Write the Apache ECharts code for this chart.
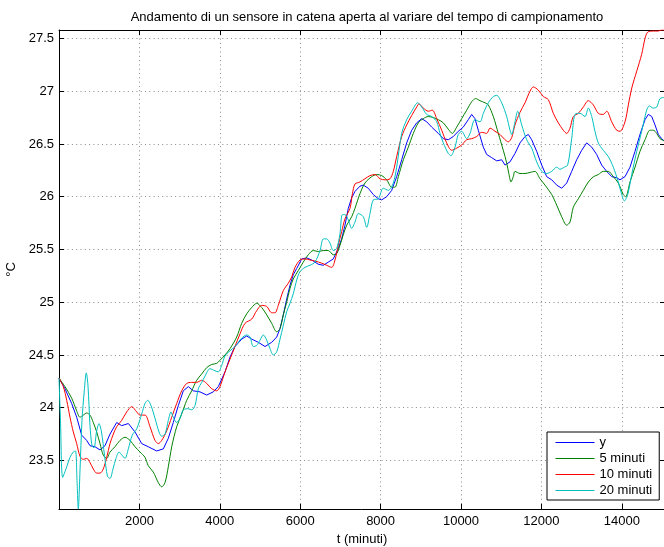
<!DOCTYPE html>
<html>
<head>
<meta charset="utf-8">
<title>Andamento sensore</title>
<script src="https://cdn.jsdelivr.net/npm/echarts@6/dist/echarts.min.js"></script>
<style>
  html, body { margin: 0; padding: 0; background: #fff; }
  #chart { width: 664px; height: 547px; }
</style>
</head>
<body>
<div id="chart"></div>
<script>
// Text
const chartTitle = 'Andamento di un sensore in catena aperta al variare del tempo di campionamento';
const xName = 't (minuti)';
const yName = '°C';
const seriesNames = ['y', '5 minuti', '10 minuti', '20 minuti'];

// Axis ranges and tick steps
const xRange = [0, 15075];
const yRange = [23.04, 27.58];
const xStep = 2000;
const yStep = 0.5;

// Measured signal y: [t (minuti), °C]
const dataY = [
  [0,24.28],[149,24.18],[315,24.04],[440,23.91],[564,23.74],[689,23.69],[771,23.64],[896,23.63],
  [1020,23.60],[1144,23.64],[1269,23.75],[1435,23.86],[1559,23.83],[1725,23.85],[1891,23.77],
  [2057,23.66],[2221,23.63],[2430,23.59],[2595,23.61],[2719,23.71],[2843,23.86],[2968,24.02],
  [3092,24.16],[3217,24.20],[3341,24.16],[3508,24.15],[3674,24.12],[3838,24.15],[3963,24.20],
  [4130,24.34],[4254,24.48],[4378,24.58],[4545,24.65],[4669,24.68],[4794,24.65],[4958,24.62],
  [5125,24.58],[5291,24.62],[5416,24.67],[5498,24.75],[5580,24.88],[5664,25.03],[5746,25.16],
  [5828,25.26],[5913,25.32],[6038,25.41],[6163,25.42],[6286,25.40],[6450,25.36],[6575,25.35],
  [6699,25.38],[6823,25.41],[6948,25.51],[7032,25.60],[7114,25.73],[7197,25.89],[7280,25.99],
  [7363,26.05],[7488,26.10],[7570,26.11],[7694,26.08],[7819,26.02],[7943,25.98],[8027,25.97],
  [8152,26.00],[8276,26.06],[8400,26.19],[8525,26.35],[8649,26.51],[8774,26.63],[8898,26.70],
  [9023,26.74],[9147,26.71],[9271,26.66],[9436,26.60],[9560,26.55],[9684,26.54],[9809,26.57],
  [9933,26.62],[10057,26.66],[10182,26.73],[10266,26.78],[10348,26.74],[10431,26.63],[10555,26.47],
  [10640,26.40],[10764,26.37],[10888,26.34],[11012,26.35],[11095,26.30],[11219,26.33],[11343,26.41],
  [11468,26.51],[11592,26.57],[11674,26.59],[11759,26.54],[11883,26.43],[12008,26.30],[12132,26.19],
  [12257,26.16],[12381,26.11],[12505,26.08],[12630,26.13],[12754,26.24],[12878,26.35],[13003,26.44],
  [13127,26.51],[13252,26.47],[13376,26.40],[13500,26.30],[13625,26.24],[13749,26.19],[13873,26.18],
  [13956,26.16],[14080,26.19],[14205,26.28],[14329,26.43],[14453,26.59],[14578,26.73],[14660,26.78],
  [14745,26.76],[14827,26.68],[14909,26.59],[14993,26.55],[15050,26.53]
];

// Sampled every 5 minutes
const data5 = [
  [0,24.28],[149,24.20],[316,24.09],[440,23.97],[522,23.91],[605,23.93],[689,23.95],[771,23.93],
  [853,23.86],[938,23.77],[1020,23.66],[1102,23.55],[1187,23.52],[1269,23.58],[1393,23.63],
  [1517,23.69],[1642,23.72],[1766,23.69],[1891,23.63],[2015,23.58],[2139,23.53],[2221,23.45],
  [2346,23.39],[2470,23.29],[2555,23.25],[2637,23.29],[2719,23.44],[2804,23.63],[2928,23.82],
  [3052,23.94],[3177,24.07],[3301,24.16],[3425,24.26],[3550,24.32],[3674,24.38],[3799,24.41],
  [3923,24.42],[4005,24.45],[4130,24.50],[4254,24.56],[4420,24.67],[4545,24.80],[4669,24.89],
  [4794,24.95],[4918,24.99],[5042,24.95],[5167,24.88],[5291,24.80],[5416,24.72],[5498,24.75],
  [5580,24.88],[5664,25.00],[5746,25.13],[5828,25.22],[5953,25.30],[6077,25.38],[6202,25.45],
  [6326,25.49],[6450,25.48],[6575,25.49],[6699,25.49],[6823,25.45],[6908,25.46],[6990,25.54],
  [7072,25.64],[7157,25.73],[7281,25.81],[7363,25.89],[7488,26.03],[7612,26.13],[7779,26.19],
  [7903,26.21],[8027,26.20],[8152,26.16],[8276,26.09],[8358,26.09],[8441,26.19],[8566,26.35],
  [8690,26.47],[8814,26.60],[8938,26.70],[9062,26.74],[9187,26.76],[9311,26.75],[9436,26.73],
  [9560,26.70],[9684,26.64],[9784,26.60],[9893,26.66],[10017,26.74],[10142,26.82],[10266,26.90],
  [10366,26.93],[10473,26.91],[10597,26.89],[10679,26.87],[10804,26.76],[10928,26.60],[11052,26.44],
  [11137,26.32],[11190,26.22],[11244,26.14],[11301,26.19],[11343,26.24],[11468,26.22],[11592,26.22],
  [11717,26.23],[11841,26.24],[11965,26.17],[12090,26.11],[12257,26.02],[12381,25.92],[12505,25.81],
  [12630,25.73],[12712,25.76],[12794,25.90],[12918,25.98],[13043,26.06],[13169,26.14],[13299,26.19],
  [13416,26.21],[13540,26.24],[13665,26.24],[13789,26.19],[13913,26.13],[14038,26.02],[14097,26.00],
  [14205,26.14],[14329,26.28],[14453,26.43],[14578,26.54],[14702,26.63],[14784,26.63],[14869,26.60],
  [14951,26.55],[15050,26.53]
];

// Sampled every 10 minutes
const data10 = [
  [0,24.28],[107,24.20],[192,24.07],[274,23.91],[356,23.77],[440,23.66],[522,23.54],[604,23.51],
  [689,23.52],[771,23.48],[853,23.42],[938,23.38],[1020,23.38],[1102,23.42],[1187,23.53],
  [1269,23.66],[1351,23.75],[1435,23.82],[1560,23.88],[1684,23.96],[1809,24.01],[1933,23.96],
  [2015,23.93],[2139,23.93],[2264,23.82],[2388,23.69],[2470,23.66],[2555,23.69],[2679,23.78],
  [2804,23.91],[2928,24.04],[3052,24.16],[3177,24.23],[3301,24.24],[3425,24.24],[3550,24.26],
  [3674,24.23],[3799,24.18],[3923,24.16],[4005,24.20],[4130,24.34],[4254,24.46],[4378,24.58],
  [4503,24.70],[4627,24.80],[4794,24.84],[4918,24.92],[5042,24.97],[5167,24.96],[5291,24.90],
  [5373,24.90],[5455,24.97],[5580,25.11],[5704,25.18],[5789,25.24],[5871,25.33],[5995,25.40],
  [6120,25.41],[6244,25.40],[6368,25.39],[6535,25.37],[6659,25.35],[6784,25.33],[6866,25.40],
  [6948,25.54],[7032,25.67],[7114,25.79],[7239,25.89],[7300,26.03],[7363,26.12],[7488,26.14],
  [7612,26.17],[7736,26.20],[7861,26.21],[7985,26.17],[8110,26.16],[8234,26.17],[8316,26.24],
  [8400,26.38],[8525,26.57],[8649,26.68],[8774,26.77],[8898,26.85],[8955,26.88],[9062,26.84],
  [9187,26.81],[9286,26.82],[9396,26.74],[9520,26.63],[9644,26.51],[9769,26.44],[9893,26.46],
  [10017,26.49],[10142,26.54],[10266,26.55],[10391,26.57],[10515,26.61],[10640,26.60],[10722,26.65],
  [10846,26.62],[10970,26.59],[11095,26.54],[11177,26.52],[11261,26.56],[11343,26.68],[11468,26.80],
  [11592,26.89],[11717,27.00],[11799,27.04],[11923,27.01],[12048,26.95],[12172,26.92],[12297,26.79],
  [12421,26.70],[12545,26.63],[12630,26.60],[12712,26.65],[12794,26.76],[12918,26.79],[13043,26.85],
  [13167,26.91],[13291,26.87],[13416,26.79],[13540,26.78],[13625,26.81],[13749,26.71],[13873,26.63],
  [13956,26.62],[14080,26.71],[14163,26.87],[14248,27.03],[14372,27.19],[14495,27.35],[14578,27.50],
  [14645,27.56],[14784,27.57],[14909,27.57],[14976,27.58],[15050,27.58]
];

// Sampled every 20 minutes
const data20 = [
  [0,24.28],[37,23.88],[92,23.34],[192,23.44],[274,23.53],[356,23.58],[410,23.59],[448,23.31],
  [480,23.04],[522,23.40],[572,23.88],[629,24.16],[679,24.33],[721,24.21],[771,23.83],[821,23.64],
  [871,23.62],[933,23.77],[995,23.85],[1057,23.77],[1132,23.55],[1206,23.35],[1269,23.33],
  [1343,23.42],[1418,23.52],[1493,23.58],[1567,23.55],[1642,23.52],[1724,23.61],[1823,23.74],
  [1933,23.80],[2057,23.94],[2139,24.04],[2206,24.07],[2289,24.02],[2388,23.90],[2488,23.77],
  [2555,23.73],[2637,23.75],[2719,23.88],[2786,23.96],[2843,23.91],[2928,23.86],[3010,23.90],
  [3092,23.98],[3217,23.99],[3301,23.98],[3383,24.02],[3466,24.18],[3550,24.24],[3632,24.30],
  [3756,24.37],[3880,24.35],[3963,24.34],[4047,24.40],[4130,24.49],[4254,24.54],[4378,24.58],
  [4545,24.66],[4669,24.69],[4751,24.67],[4834,24.58],[4918,24.59],[5000,24.64],[5082,24.69],
  [5167,24.64],[5249,24.56],[5331,24.50],[5416,24.53],[5498,24.65],[5580,24.78],[5664,24.91],
  [5746,24.99],[5828,25.08],[5913,25.21],[5995,25.29],[6120,25.33],[6244,25.35],[6368,25.38],
  [6493,25.49],[6575,25.60],[6659,25.60],[6741,25.56],[6823,25.49],[6908,25.51],[6990,25.65],
  [7047,25.83],[7114,25.83],[7197,25.78],[7281,25.70],[7363,25.76],[7446,25.84],[7570,25.81],
  [7654,25.71],[7736,25.84],[7819,25.97],[7943,25.98],[8067,26.08],[8192,26.06],[8316,26.13],
  [8400,26.28],[8525,26.60],[8649,26.73],[8774,26.81],[8923,26.89],[9023,26.85],[9147,26.78],
  [9271,26.76],[9396,26.71],[9478,26.60],[9560,26.51],[9684,26.41],[9751,26.39],[9851,26.47],
  [9933,26.59],[10017,26.62],[10142,26.55],[10224,26.60],[10348,26.73],[10473,26.71],[10555,26.79],
  [10679,26.89],[10804,26.95],[10888,26.96],[11012,26.89],[11137,26.76],[11219,26.63],[11261,26.59],
  [11343,26.71],[11410,26.81],[11510,26.68],[11634,26.54],[11759,26.46],[11883,26.33],[12008,26.24],
  [12132,26.22],[12257,26.24],[12381,26.28],[12463,26.26],[12570,26.28],[12654,26.30],[12754,26.55],
  [12836,26.78],[12961,26.79],[13085,26.76],[13167,26.84],[13252,26.76],[13333,26.62],[13416,26.51],
  [13540,26.44],[13665,26.38],[13789,26.28],[13913,26.14],[13998,26.02],[14063,25.96],[14147,26.02],
  [14247,26.21],[14372,26.43],[14495,26.62],[14619,26.82],[14685,26.86],[14784,26.84],[14869,26.85],
  [14951,26.93],[15050,26.94]
];

const seriesData = [dataY, data5, data10, data20];
const seriesColors = ['#0000ff', '#008000', '#ff0000', '#00bfbf'];

const FONT = '"Liberation Sans", Arial, Helvetica, sans-serif';
const black = '#000';

function isStep(v, step) {
  const k = v / step;
  return Math.abs(k - Math.round(k)) < 1e-6;
}

// Frame axes (top and right) just draw the box with inward ticks
function frameX(pos, withLabels) {
  return {
    type: 'value', gridIndex: 0, position: pos,
    min: xRange[0], max: xRange[1], interval: xStep,
    axisLine: { show: true, onZero: false, lineStyle: { color: black, width: 1 } },
    axisTick: { show: true, inside: true, length: 5, lineStyle: { color: black, width: 1 } },
    axisLabel: withLabels ? {
      show: true, color: black, fontSize: 13, fontFamily: FONT, margin: 6,
      formatter: v => (v > xRange[0] && v < xRange[1] && isStep(v, xStep)) ? String(v) : ''
    } : { show: false },
    splitLine: withLabels ? { show: true, lineStyle: { color: '#8a8a8a', width: 1, type: [1, 3.3] } } : { show: false }
  };
}
function frameY(pos, withLabels) {
  return {
    type: 'value', gridIndex: 0, position: pos,
    min: yRange[0], max: yRange[1], splitNumber: 9,
    axisLine: { show: true, onZero: false, lineStyle: { color: black, width: 1 } },
    axisTick: { show: true, inside: true, length: 5, lineStyle: { color: black, width: 1 } },
    axisLabel: withLabels ? {
      show: true, color: black, fontSize: 13, fontFamily: FONT, margin: 5,
      formatter: v => (v > yRange[0] && v < yRange[1] && isStep(v, yStep)) ? String(Math.round(v * 10) / 10) : ''
    } : { show: false },
    splitLine: withLabels ? { show: true, lineStyle: { color: '#8a8a8a', width: 1, type: [1, 3.3] } } : { show: false }
  };
}

const xBottom = Object.assign(frameX('bottom', true), {
  name: xName, nameLocation: 'middle', nameGap: 21,
  nameTextStyle: { color: black, fontSize: 13, fontFamily: FONT }
});
const yLeft = Object.assign(frameY('left', true), {
  name: yName, nameLocation: 'middle', nameGap: 35,
  nameTextStyle: { color: black, fontSize: 13, fontFamily: FONT }
});

const chart = echarts.init(document.getElementById('chart'), null, { renderer: 'canvas' });
chart.setOption({
  animation: false,
  backgroundColor: '#fff',
  textStyle: { fontFamily: FONT },
  title: {
    text: chartTitle, left: 362, top: 6, textAlign: 'center',
    textStyle: { color: black, fontSize: 13, fontWeight: 'normal', fontFamily: FONT }
  },
  grid: { left: 59, right: -1, top: 30, bottom: 38, containLabel: false, outerBoundsMode: 'none' },
  xAxis: [xBottom, frameX('top', false)],
  yAxis: [yLeft, frameY('right', false)],
  legend: {
    data: seriesNames, orient: 'vertical', left: 547, top: 432,
    backgroundColor: '#fff', borderColor: black, borderWidth: 1, borderRadius: 0,
    padding: [4, 7, 3, 8], itemGap: 3, itemWidth: 39, itemHeight: 14,
    itemStyle: { opacity: 0 },
    lineStyle: { width: 1 },
    textStyle: { color: black, fontSize: 13, fontFamily: FONT },
    z: 10
  },
  series: seriesNames.map((name, i) => ({
    name: name, type: 'line', xAxisIndex: 0, yAxisIndex: 0,
    data: seriesData[i], showSymbol: false, symbol: 'none',
    smooth: i === 0 ? false : 0.3,
    color: seriesColors[i],
    lineStyle: { color: seriesColors[i], width: 1 },
    z: 2 + i
  }))
});
</script>
</body>
</html>
